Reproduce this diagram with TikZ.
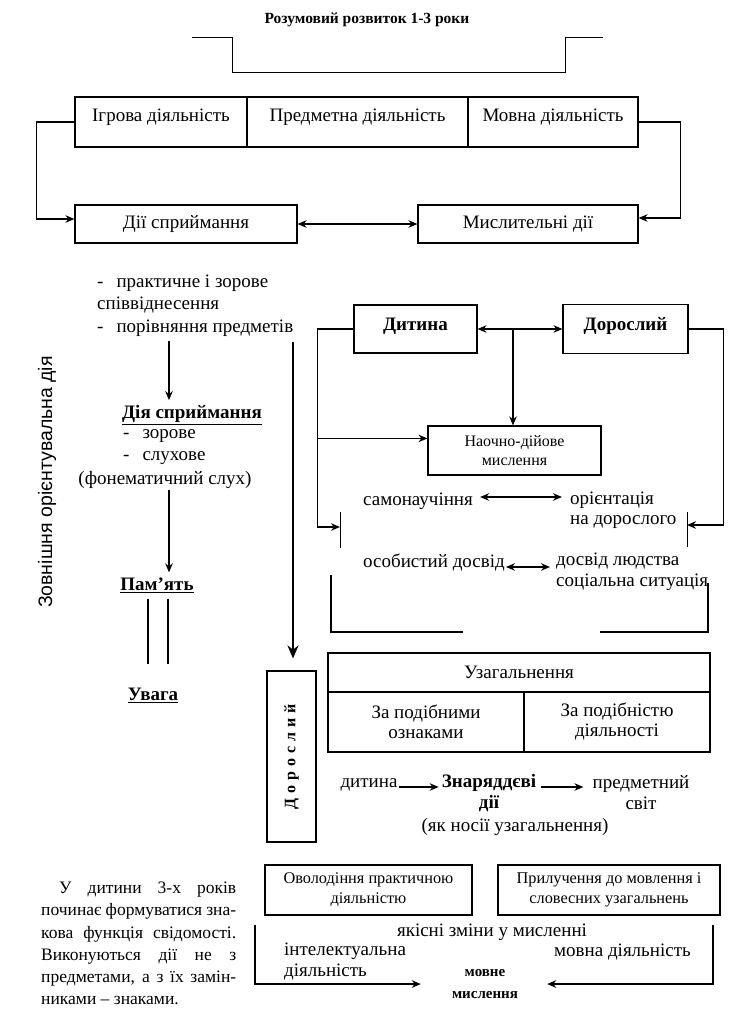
\documentclass[tikz,border=0pt]{standalone}
\usepackage{fontspec}
\setmainfont{Liberation Serif}
\newfontfamily\sansf{Liberation Sans}
\usetikzlibrary{arrows.meta,calc,positioning}

\newcommand{\sz}[2]{\fontsize{#1}{#2}\selectfont}
\newcommand{\base}{\sz{19}{21}}
\newcommand{\gp}{\hspace{5pt}}

\tikzset{
  box/.style={draw, line width=1.1pt, align=center},
  conn/.style={line width=1.6pt, -{Stealth[length=9pt,width=7.5pt]}},
  dconn/.style={line width=1.6pt, {Stealth[length=9pt,width=7.5pt]}-{Stealth[length=9pt,width=7.5pt]}},
  bigconn/.style={line width=2.4pt, -{Stealth[length=13pt,width=11pt]}},
  txt/.style={align=left},
  hd/.style={font=\base\bfseries},
}

\begin{document}
\begin{tikzpicture}[x=1pt,y=-1pt, every node/.append style={inner sep=1pt, font=\base}]
	\useasboundingbox (0,0) rectangle (745,1030);

	% title
	\node[font=\bfseries\sz{15.5}{18}] (title) at (367,20) {Розумовий розвиток 1-3 роки};
	\draw[line width=0.9pt] (192,37) -- (232,37) -- (232,72) -- (565,72) -- (565,37) -- (603,37);

	% activities
	\node[box, minimum width=172, minimum height=50, text depth=14pt] (igr) at (161,122) {Ігрова діяльність};
	\node[box, minimum width=221, minimum height=50, text depth=14pt] (pred) at (357.5,122) {Предметна діяльність};
	\node[box, minimum width=170, minimum height=50, text depth=14pt] (movn) at (553,122) {Мовна діяльність};
	\node[box, minimum width=222, minimum height=38] (spr) at (186,224) {Дії сприймання};
	\node[box, minimum width=220, minimum height=38] (mysl) at (528,224) {Мислительні дії};
	\draw[conn] (igr.west) -- ++(-38,0) |- ($(spr.west)+(0,-5)$);
	\draw[conn] (movn.east) -- ++(42,0) |- ($(mysl.east)+(0,-6)$);
	\draw[dconn] (spr) -- (mysl);

	% left column
	\node[txt, anchor=west, font=\sz{19}{22.5}] (prakt) at (96,305.5) {-\hspace{13pt}практичне і зорове\\співвіднесення\\-\hspace{13pt}порівняння предметів};
	\coordinate (ax) at (169,0);
	\node[hd] (diya) at (192,415) {\underline{Дія сприймання}};
	\node[anchor=west] (zor) at (122,436) {-\hspace{13pt}зорове};
	\node[anchor=west] (sluh) at (122,458) {-\hspace{13pt}слухове};
	\node (fonem) at (165,480) {(фонематичний слух)};
	\node[hd] (pam) at (157,585) {\underline{Пам’ять}};
	\node[hd] (uvaga) at (153,695) {\underline{Увага}};
	\draw[conn, shorten <=3pt, shorten >=4pt] (prakt.south -| ax) -- (diya.north -| ax);
	\draw[conn, shorten >=4pt] (fonem.south -| ax) -- (pam.north -| ax);
	\coordinate (l1) at (148,0);
	\coordinate (l2) at (168,0);
	\draw[line width=1.6pt, shorten <=5pt, shorten >=22pt] (pam.south -| l1) -- (uvaga.north -| l1);
	\draw[line width=1.6pt, shorten <=5pt, shorten >=22pt] (pam.south -| l2) -- (uvaga.north -| l2);
	\node[rotate=90, font=\sansf\sz{19.5}{22}] (zovn) at (47,482) {Зовнішня орієнтувальна дія};

	% adult, vertical
	\node[box, rotate=90, minimum width=171, minimum height=49, font=\bfseries\sz{16}{18}] (dorv) at (291.5,756.5) {Д\gp о\gp р\gp о\gp с\gp л\gp и\gp й};
	\coordinate (bs) at (293,342);
	\draw[bigconn, shorten >=12pt] (bs) -- (bs |- dorv.east);

	% child and adult
	\node[box, hd, minimum width=123, minimum height=48, text depth=10pt] (dyt) at (415.5,329) {Дитина};
	\node[box, hd, minimum width=125, minimum height=49, text depth=10pt] (dor) at (625.5,329) {Дорослий};
	\draw[dconn] (dyt) -- (dor);
	\coordinate (mid) at (513,329);
	\node[box, minimum width=173, minimum height=49, font=\sz{16}{19}] (naoch) at (514.5,450.5) {Наочно-дійове\\мислення};
	\draw[conn] (mid) -- (mid |- naoch.north);
	\coordinate (tl) at (340,527);
	\coordinate (tr) at (687,525);
	\draw[conn] (dyt.west) -- ++(-36,0) coordinate (lb) |- (tl);
	\coordinate (nw) at ($(naoch.north west)+(0,13)$);
	\draw[conn] (lb |- nw) -- (nw);
	\draw[conn] (dor.east) -- ++(35,0) coordinate (rb) |- (tr);
	\draw[line width=0.9pt] (340,512) -- (340,548);
	\draw[line width=0.9pt] (687,512) -- (687,547);

	\node[anchor=west] (samo) at (362,501) {самонаучіння};
	\node[txt, anchor=west, font=\sz{19}{20}] (orient) at (569,510) {орієнтація\\на дорослого};
	\draw[dconn, shorten <=6pt, shorten >=7pt] ($(samo.east)+(0,-4)$) -- ($(samo.east -| orient.west)+(0,-4)$);
	\node[anchor=west] (osob) at (362,563) {особистий досвід};
	\node[txt, anchor=west, font=\sz{19}{21}] (dosv) at (555,572) {досвід людства\\соціальна ситуація};
	\draw[dconn, shorten >=5pt] ($(osob.east)+(0,4)$) -- ($(osob.east -| dosv.west)+(0,4)$);
	\draw[line width=1.6pt] (331,575) -- (331,632) -- (463,632);
	\draw[line width=1.6pt] (600,632) -- (708,632) -- (708,583);

	% generalisation
	\node[box, minimum width=382, minimum height=39] (uzag) at (519,672.5) {Узагальнення};
	\node[box, minimum width=196, minimum height=60, font=\sz{19}{20}] (podzn) at (426,722) {За подібними\\ознаками};
	\node[box, minimum width=186, minimum height=60, font=\sz{19}{20}] (podd) at (617,722) {За подібністю\\діяльності};

	\node (dyt2) at (369,785) {дитина};
	\node[align=center, font=\bfseries\sz{19}{21}] (znar) at (489,793) {Знаряддєві\\дії};
	\node[align=center, font=\sz{19}{21}] (predm) at (641,793) {предметний\\світ};
	\draw[conn, shorten >=2pt] ($(dyt2.east)+(0,2)$) -- ($(znar.west)+(0,-6)$);
	\draw[conn, shorten <=4pt, shorten >=8pt] ($(znar.east)+(0,-6)$) -- ($(predm.west)+(0,-6)$);
	\node (nosii) at (515,827) {(як носії узагальнення)};

	% speech
	\node[box, minimum width=207, minimum height=50, font=\sz{16.3}{20}] (ovol) at (368.5,890) {Оволодіння практичною\\діяльністю};
	\node[box, minimum width=222, minimum height=50, font=\sz{16.3}{20}] (pryl) at (609,890) {Прилучення до мовлення і\\словесних узагальнень};
	\node (yak) at (492,932) {якісні зміни у мисленні};
	\node[txt, anchor=west] (intel) at (283,962) {інтелектуальна\\діяльність};
	\node[anchor=west] (movd) at (553,952) {мовна діяльність};
	\node[align=center, font=\bfseries\sz{15}{22}] (movm) at (485,984) {мовне\\мислення};
	\coordinate (bl) at (255,925);
	\coordinate (br) at (713,925);
	\draw[conn, shorten >=30pt] (bl) |- (movm.west);
	\draw[conn, shorten >=28pt] (br) |- (movm.east);

	\node[anchor=west, align=left, font=\sz{17.5}{22.2}] (znak) at (40,943.5) {\makebox[195pt][s]{\hspace*{18pt}У дитини 3-х років}\\\makebox[195pt][s]{починає формуватися зна-}\\\makebox[195pt][s]{кова функція свідомості.}\\\makebox[195pt][s]{Виконуються дії не з}\\\makebox[195pt][s]{предметами, а з їх замін-}\\никами – знаками.};
\end{tikzpicture}
\end{document}
